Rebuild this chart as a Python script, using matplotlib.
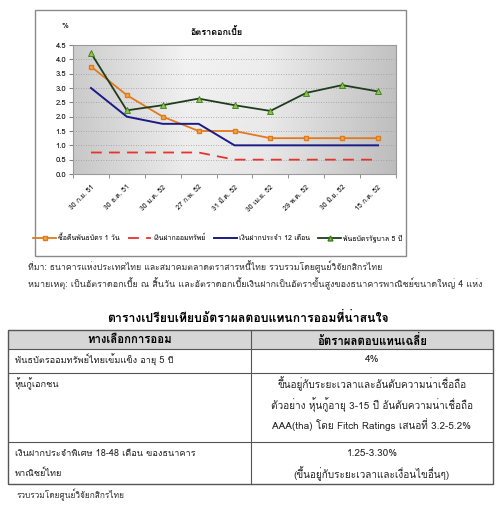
import numpy as np
import matplotlib
matplotlib.use("Agg")
import matplotlib.pyplot as plt
from matplotlib.patches import Rectangle
from matplotlib.lines import Line2D

plt.rcParams['font.family'] = ['Loma', 'DejaVu Sans']

# ข้อมูลอัตราดอกเบี้ย (%)
dates = ["30 ก.ย. 51", "30 ธ.ค. 51", "30 ม.ค. 52", "27 ก.พ. 52", "31 มี.ค. 52",
         "30 เม.ย. 52", "29 พ.ค. 52", "30 มิ.ย. 52", "15 ก.ค. 52"]
repo_1d = [3.75, 2.75, 2.0, 1.5, 1.5, 1.25, 1.25, 1.25, 1.25]
savings = [0.75, 0.75, 0.75, 0.75, 0.5, 0.5, 0.5, 0.5, 0.5]
fixed_12m = [3.0, 2.0, 1.75, 1.75, 1.0, 1.0, 1.0, 1.0, 1.0]
bond_5y = [4.22, 2.22, 2.4, 2.63, 2.4, 2.2, 2.83, 3.1, 2.88]
series_names = ["ซื้อคืนพันธบัตร 1 วัน", "เงินฝากออมทรัพย์", "เงินฝากประจำ 12 เดือน", "พันธบัตรรัฐบาล 5 ปี"]

# ตาราง
table_title = "ตารางเปรียบเทียบอัตราผลตอบแทนการออมที่น่าสนใจ"
table_head = ["ทางเลือกการออม", "อัตราผลตอบแทนเฉลี่ย"]
table_left = [["พันธบัตรออมทรัพย์ไทยเข้มแข็ง อายุ 5 ปี"],
              ["หุ้นกู้เอกชน"],
              ["เงินฝากประจำพิเศษ 18-48 เดือน ของธนาคาร", "พาณิชย์ไทย"]]
table_right = [["4%"],
               ["ขึ้นอยู่กับระยะเวลาและอันดับความน่าเชื่อถือ",
                "ตัวอย่าง หุ้นกู้อายุ 3-15 ปี อันดับความน่าเชื่อถือ",
                "AAA(tha) โดย Fitch Ratings เสนอที่ 3.2-5.2%"],
               ["1.25-3.30%", "(ขึ้นอยู่กับระยะเวลาและเงื่อนไขอื่นๆ)"]]
source_txt = "ที่มา: ธนาคารแห่งประเทศไทย และสมาคมตลาดตราสารหนี้ไทย รวบรวมโดยศูนย์วิจัยกสิกรไทย"
note_txt = "หมายเหตุ: เป็นอัตราดอกเบี้ย ณ สิ้นวัน และอัตราดอกเบี้ยเงินฝากเป็นอัตราขั้นสูงของธนาคารพาณิชย์ขนาดใหญ่ 4 แห่ง"
footer_txt = "รวบรวมโดยศูนย์วิจัยกสิกรไทย"

W, H = 500, 508


def fx(x):
    return x / W


def fy(y):
    return 1 - y / H


fig = plt.figure(figsize=(W / 100, H / 100), dpi=100)

# กรอบกราฟ
fig.patches.append(Rectangle((fx(35), fy(256)), (406 - 35) / W, (256 - 10) / H,
                             transform=fig.transFigure, fill=False, ec="#8a8a8a", lw=1.0))

ax = fig.add_axes([fx(73), fy(174), (396 - 73) / W, (174 - 45) / H])
x = np.arange(len(dates))

# พื้นหลังไล่เฉดสีเทา
cols = np.interp(np.linspace(0, 1, 200), [0, 0.35, 0.6, 1], [0.80, 0.95, 0.93, 0.76])
rows = np.interp(np.linspace(0, 1, 100), [0, 1], [0.97, 1.0])
bg = np.clip(np.outer(rows, cols), 0, 1)
ax.imshow(bg, cmap="gray", vmin=0, vmax=1, extent=[-0.5, 8.5, 0, 4.5],
          aspect="auto", zorder=0, origin="lower")

for yv in np.arange(0.5, 4.5, 0.5):
    ax.axhline(yv, color="#9a9a9a", lw=0.6, ls=(0, (1, 2)), zorder=1)

ax.plot(x, repo_1d, color="#e07a1f", lw=1.3, marker="s", ms=3,
        mfc="#f4a93a", mec="#e07a1f", zorder=3)
ax.plot(x, savings, color="#e8322c", lw=1.3, ls=(0, (6, 4)), zorder=3)
ax.plot(x, fixed_12m, color="#1a1a88", lw=1.4, zorder=3)
ax.plot(x, bond_5y, color="#1d3d1d", lw=1.3, marker="^", ms=4,
        mfc="#8cc63f", mec="#3b7a20", mew=0.6, zorder=4)

ax.set_xlim(-0.5, 8.5)
ax.set_ylim(0, 4.5)
ax.set_yticks(np.arange(0, 4.51, 0.5))
ax.set_yticklabels(["%.1f" % v for v in np.arange(0, 4.51, 0.5)], fontsize=5.5)
ax.set_xticks(x)
ax.set_xticklabels(dates, rotation=45, ha="right", rotation_mode="anchor", fontsize=5)
ax.set_xticks(np.arange(-0.5, 8.6, 1), minor=True)
ax.tick_params(axis="x", which="major", length=0, pad=7)
ax.tick_params(axis="x", which="minor", length=3, color="#808080")
ax.tick_params(axis="y", length=3, color="#808080", pad=2)
for sp in ax.spines.values():
    sp.set_color("#9a9a9a")
    sp.set_linewidth(0.8)

fig.text(fx(62), fy(27), "%", fontsize=5.5, ha="left", va="center")
fig.text(fx(217), fy(32), "อัตราดอกเบี้ย", fontsize=6.5, fontweight="bold",
         ha="center", va="center")

handles = [
    Line2D([], [], color="#e07a1f", lw=1.3, marker="s", ms=2.5, mfc="#f4a93a", mec="#e07a1f"),
    Line2D([], [], color="#e8322c", lw=1.3, ls=(0, (6, 4))),
    Line2D([], [], color="#1a1a88", lw=1.4),
    Line2D([], [], color="#1d3d1d", lw=1.3, marker="^", ms=3.5, mfc="#8cc63f", mec="#3b7a20"),
]
fig.legend(handles, series_names, loc="center", bbox_to_anchor=(fx(218), fy(238)),
           ncol=4, frameon=False, fontsize=5, handlelength=3.3, handletextpad=0.3,
           columnspacing=1.2)

fig.text(fx(28), fy(267), source_txt, fontsize=6.3, color="#333333", va="center")
fig.text(fx(28), fy(284), note_txt, fontsize=6.5, color="#333333", va="center")

# ตาราง
fig.text(fx(248), fy(318), table_title, fontsize=8.8, fontweight="bold", ha="center", va="center")
tl, tr, tm = 8, 493, 251
row_y = [330, 349, 373, 442, 484]
fig.patches.append(Rectangle((fx(tl), fy(row_y[1])), (tr - tl) / W, (row_y[1] - row_y[0]) / H,
                             transform=fig.transFigure, fc="#d6d6d6", ec="none"))
fig.patches.append(Rectangle((fx(tl), fy(row_y[-1])), (tr - tl) / W, (row_y[-1] - row_y[0]) / H,
                             transform=fig.transFigure, fill=False, ec="#555555", lw=1.0))
for yy in row_y[1:-1]:
    fig.add_artist(Line2D([fx(tl), fx(tr)], [fy(yy), fy(yy)], color="#555555", lw=0.8))
fig.add_artist(Line2D([fx(tm), fx(tm)], [fy(row_y[0]), fy(row_y[-1])], color="#555555", lw=0.8))

fig.text(fx((tl + tm) / 2), fy(340), table_head[0], fontsize=8.2, fontweight="bold",
         ha="center", va="center")
fig.text(fx((tm + tr) / 2), fy(340), table_head[1], fontsize=8.2, fontweight="bold",
         ha="center", va="center")

line_gap = 20.5
for i in range(3):
    top = row_y[i + 1]
    for j, s in enumerate(table_left[i]):
        fig.text(fx(15), fy(top + 11 + j * line_gap), s, fontsize=6.6, color="#222222", va="center")
    for j, s in enumerate(table_right[i]):
        fig.text(fx((tm + tr) / 2), fy(top + 11 + j * line_gap), s, fontsize=7.2,
                 color="#222222", ha="center", va="center")

fig.text(fx(17), fy(495), footer_txt, fontsize=6, color="#333333", va="center")

fig.savefig("out.png", dpi=100)
